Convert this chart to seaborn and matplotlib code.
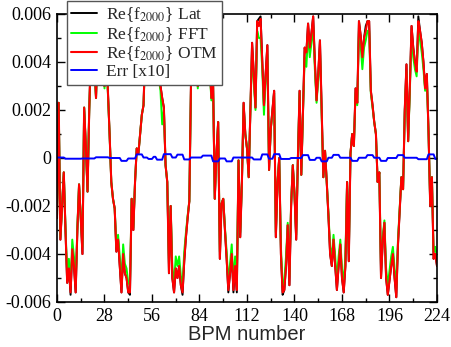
import numpy as np
import pandas as pd
import matplotlib
matplotlib.use("Agg")
import matplotlib.pyplot as plt
import seaborn as sns
from matplotlib.ticker import MultipleLocator

# BPM index
bpm = list(range(225))

# Re{f2000} values, units of 1e-4
lat = [
    -25, 23, -34, -20, -6, -30, -52, -46, -57, -38, -45, -56, -30, -11, -25, -40,
    21, 5, -14, 20, 45, 55, 40, 25, 50, 57, 56, 45, 30, 50, 28, 10,
    -10, -17, -21, -39, -34, -45, -56, -40, -48, -50, -56, -57, -17, -30, -10, 4,
    2, 10, 18, 22, 45, 55, 50, 40, 56, 58, 50, 45, 35, 30, 25, 21,
    -3, -10, -48, -20, -50, -56, -46, -50, -45, -53, -57, -43, -33, -25, -18, 32,
    50, 55, 45, 30, 48, 57, 55, 42, 50, 58, 40, 25, 32, -17, 2, 15,
    -42, -19, -17, -30, -42, -56, -48, -40, -56, -45, -56, -1, -33, -10, 23, 10,
    4, -8, 20, 48, 35, 21, 57, 58, 59, 40, 22, 35, 47, -5, 12, 20,
    28, -33, -10, 0, -40, -57, -55, -45, -28, -53, -20, -3, -15, -34, 0, 28,
    -7, 20, 46, 44, 56, 46, 52, 59, 40, 24, 35, 49, 20, -8, 3, -10,
    -24, -40, -45, -34, -45, -55, -45, -36, -50, -56, -45, -10, -43, 2, 10, 5,
    29, 23, 57, 51, 42, 50, 55, 57, 57, 28, 22, 15, 10, -10, -6, -50,
    -35, -27, -50, -57, -51, -45, -40, -50, -58, -36, -22, -8, -13, 20, 39, 7,
    30, 55, 46, 40, 36, 59, 53, 48, 40, 29, 35, 11, -20, -8, -42, -40,
    -45,
]

fft = [
    -25, 23, -33, -20, -6, -29, -48, -42, -53, -34, -41, -52, -29, -11, -24, -37,
    21, 5, -14, 20, 42, 51, 37, 25, 46, 53, 52, 41, 29, 46, 27, 10,
    -10, -17, -21, -37, -32, -41, -52, -36, -44, -46, -52, -53, -17, -29, -10, 4,
    2, 10, 18, 22, 42, 51, 46, 37, 52, 54, 46, 41, 33, 28, 14, 20,
    -3, -10, -44, -20, -46, -52, -41, -45, -41, -49, -53, -39, -31, -24, -18, 30,
    46, 51, 41, 29, 44, 53, 51, 38, 46, 54, 37, 24, 30, -17, 2, 15,
    -39, -19, -17, -29, -39, -52, -44, -36, -52, -41, -52, -1, -31, -10, 22, 10,
    4, -8, 20, 44, 32, 20, 53, 50, 50, 37, 18, 33, 43, -5, 12, 19,
    27, -31, -10, 0, -37, -53, -51, -41, -27, -49, -19, -3, -15, -32, 0, 27,
    -7, 19, 42, 38, 52, 42, 48, 55, 37, 23, 33, 45, 19, -8, 3, -10,
    -23, -37, -41, -32, -41, -51, -41, -34, -46, -52, -41, -10, -40, 2, 10, 5,
    27, 22, 53, 47, 37, 46, 49, 53, 53, 27, 21, 15, 10, -10, -6, -46,
    -33, -26, -46, -53, -47, -41, -37, -46, -54, -34, -21, -8, -13, 19, 36, 7,
    28, 51, 42, 37, 34, 53, 49, 44, 37, 28, 33, 11, -19, -8, -39, -37,
    -42,
]

otm = [
    -25, 23, -34, -20, -6, -30, -52, -46, -56, -38, -45, -56, -30, -11, -25, -40,
    21, 5, -14, 20, 45, 55, 40, 25, 50, 57, 56, 45, 30, 50, 28, 10,
    -10, -17, -21, -39, -34, -45, -56, -40, -48, -50, -56, -56, -17, -30, -10, 4,
    2, 10, 18, 22, 45, 55, 50, 40, 56, 58, 50, 45, 35, 30, 25, 21,
    -3, -10, -48, -20, -50, -56, -46, -50, -45, -53, -56, -43, -33, -25, -18, 32,
    50, 55, 45, 30, 48, 57, 55, 42, 50, 58, 40, 25, 32, -17, 2, 15,
    -42, -19, -17, -30, -42, -55, -48, -40, -55, -45, -55, -1, -33, -10, 23, 10,
    4, -8, 20, 48, 35, 21, 57, 55, 58, 40, 22, 35, 47, -5, 12, 20,
    28, -33, -10, 0, -40, -56, -55, -45, -28, -53, -20, -3, -15, -34, 0, 28,
    -7, 20, 46, 44, 56, 46, 52, 59, 40, 24, 35, 49, 20, -8, 3, -10,
    -24, -40, -45, -34, -45, -55, -45, -36, -50, -56, -45, -10, -43, 2, 10, 5,
    29, 23, 57, 51, 42, 50, 53, 57, 57, 28, 22, 15, 10, -10, -6, -50,
    -35, -27, -50, -57, -51, -45, -40, -50, -58, -36, -22, -8, -13, 20, 39, 7,
    30, 55, 46, 40, 36, 57, 53, 48, 40, 29, 35, 11, -20, -8, -42, -40,
    -45,
]

# error x10, units of 1e-5
err = [
    2, 2, 2, 2, 2, -3, -3, -3, -3, -3, -3, -3, -3, -3, -3, -2,
    -2, -2, -2, -2, -2, -2, -2, 3, 3, 3, 3, 3, 3, 3, 3, 0,
    0, 0, 0, 0, 0, 0, -12, -12, -12, -12, -2, -2, -2, -2, -2, 15,
    15, 15, 15, 2, 2, 2, -4, -4, -4, 5, 5, -7, -7, -7, -7, 16,
    16, 16, 16, 16, 2, 2, 2, 14, 14, 14, 14, -6, -6, -6, -6, 2,
    2, 2, 2, 2, 2, 2, 10, 10, 10, 10, 10, 10, -14, -14, -14, -14,
    -2, -2, -2, -2, -14, -14, -14, -14, 2, 2, 2, 2, 2, 2, 2, 2,
    2, 2, 2, 2, -6, -6, -6, -6, -6, 15, 15, 15, 15, -3, -3, -3,
    16, 16, 16, 16, -4, -4, -4, -4, -4, -4, 0, 0, 0, 0, 0, 0,
    0, 12, 12, 12, 12, -8, -8, -8, -8, 1, 1, 1, -14, -14, -14, -14,
    1, 1, 1, 13, 13, 13, 13, 1, 1, 1, 1, 1, 1, 1, -12, -12,
    -12, -12, 1, 1, 1, 1, 1, 12, 12, 12, 12, 1, 1, 1, 1, -12,
    -12, -12, -12, 0, 0, 0, 0, 0, 0, 12, 12, 12, 12, 1, 1, 1,
    1, 1, 1, 1, 1, -5, -5, -5, -5, -5, -5, 15, 15, 15, 15, -4,
    -4,
]

xticks = [0, 28, 56, 84, 112, 140, 168, 196, 224]
yticks = [-0.006, -0.004, -0.002, 0, 0.002, 0.004, 0.006]
ytick_labels = ["-0.006", "-0.004", "-0.002", "0", "0.002", "0.004", "0.006"]

df = pd.DataFrame({
    "bpm": bpm,
    "lat": np.array(lat) * 1e-4,
    "fft": np.array(fft) * 1e-4,
    "otm": np.array(otm) * 1e-4,
    "err": np.array(err) * 1e-5,
})

sns.set_style("ticks")
plt.rcParams["font.family"] = ["Liberation Serif", "DejaVu Serif"]
plt.rcParams["mathtext.fontset"] = "stix"
plt.rcParams["axes.unicode_minus"] = False

fig = plt.figure(figsize=(4.52, 3.47), dpi=100)
ax = fig.add_axes([57 / 452, 1 - 302 / 347, 380 / 452, 288 / 347])

sns.lineplot(data=df, x="bpm", y="lat", color="black", lw=1.4, ax=ax,
             label=r"Re{f$_{2000}$} Lat")
sns.lineplot(data=df, x="bpm", y="fft", color="#00ff00", lw=1.4, ax=ax,
             label=r"Re{f$_{2000}$} FFT")
sns.lineplot(data=df, x="bpm", y="otm", color="#ff0000", lw=1.5, ax=ax,
             label=r"Re{f$_{2000}$} OTM")
sns.lineplot(data=df, x="bpm", y="err", color="#0000ff", lw=1.4, ax=ax,
             label="Err [x10]")

ax.set_xlim(0, 224)
ax.set_ylim(-0.006, 0.006)
ax.set_xticks(xticks)
ax.set_yticks(yticks)
ax.set_yticklabels(ytick_labels)
ax.xaxis.set_minor_locator(MultipleLocator(14))
ax.yaxis.set_minor_locator(MultipleLocator(0.001))
ax.tick_params(which="both", direction="in", top=True, right=True,
               labelsize=13, colors="black")
ax.tick_params(which="major", length=6, width=1)
ax.tick_params(which="minor", length=3, width=1)
ax.tick_params(axis="x", pad=4)
ax.tick_params(axis="y", pad=4)
for s in ax.spines.values():
    s.set_color("black")
    s.set_linewidth(1.2)

ax.set_ylabel("")
ax.set_xlabel("BPM number", fontsize=14.5, family=["Liberation Sans", "DejaVu Sans"],
              labelpad=0)

leg = ax.legend(loc="upper left", bbox_to_anchor=(67 / 452, 1 - 1 / 347),
                bbox_transform=fig.transFigure, fontsize=12.5, frameon=True,
                fancybox=False, handlelength=1.5, handletextpad=0.5,
                borderpad=0.25, labelspacing=0.05, borderaxespad=0)
leg.get_frame().set_edgecolor("#555555")
leg.get_frame().set_linewidth(1.0)
leg.get_frame().set_alpha(1)

fig.savefig("out.png", dpi=100)
